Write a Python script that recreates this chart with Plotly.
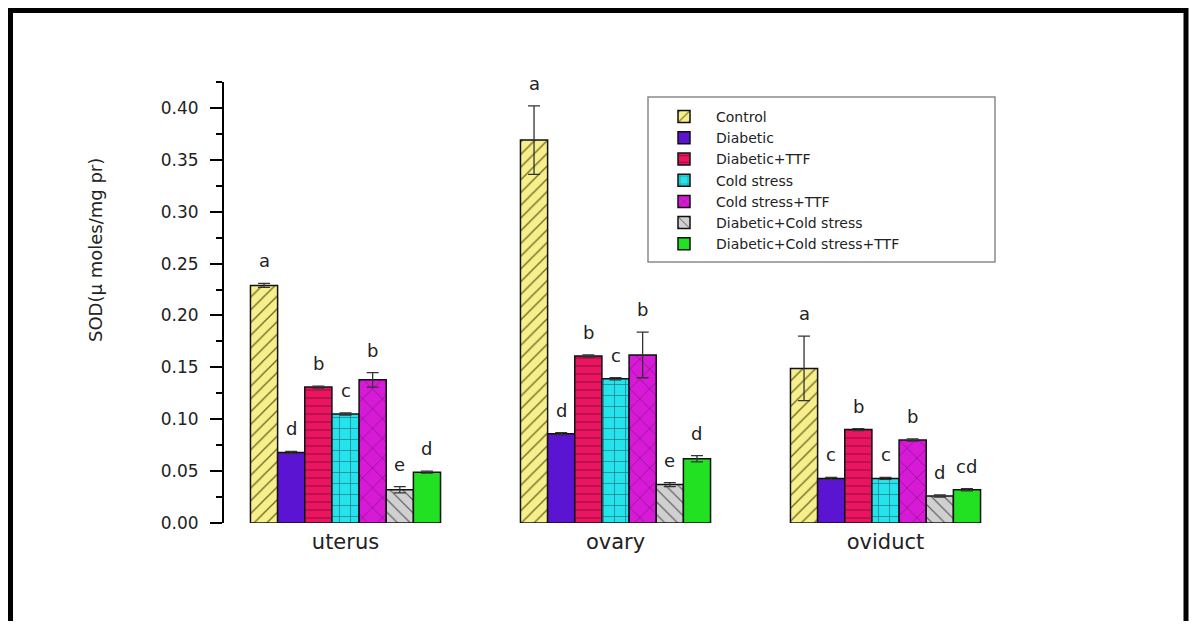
import plotly.graph_objects as go

# ---------------- data ----------------
tissues = ["uterus", "ovary", "oviduct"]
groups = ["Control", "Diabetic", "Diabetic+TTF", "Cold stress",
          "Cold stress+TTF", "Diabetic+Cold stress", "Diabetic+Cold stress+TTF"]

control = [0.229, 0.369, 0.149]
diabetic = [0.068, 0.086, 0.043]
diabetic_ttf = [0.131, 0.161, 0.090]
cold = [0.105, 0.139, 0.043]
cold_ttf = [0.138, 0.162, 0.080]
diab_cold = [0.032, 0.037, 0.026]
diab_cold_ttf = [0.049, 0.062, 0.032]

err_control = [0.002, 0.033, 0.031]
err_diabetic = [0.001, 0.001, 0.001]
err_diabetic_ttf = [0.001, 0.001, 0.001]
err_cold = [0.001, 0.001, 0.001]
err_cold_ttf = [0.007, 0.022, 0.001]
err_diab_cold = [0.003, 0.002, 0.001]
err_diab_cold_ttf = [0.001, 0.003, 0.001]

letters_control = ["a", "a", "a"]
letters_diabetic = ["d", "d", "c"]
letters_diabetic_ttf = ["b", "b", "b"]
letters_cold = ["c", "c", "c"]
letters_cold_ttf = ["b", "b", "b"]
letters_diab_cold = ["e", "e", "d"]
letters_diab_cold_ttf = ["d", "d", "cd"]

y_ticks = [0.00, 0.05, 0.10, 0.15, 0.20, 0.25, 0.30, 0.35, 0.40]
y_title = "SOD(μ moles/mg pr)"

values = [control, diabetic, diabetic_ttf, cold, cold_ttf, diab_cold, diab_cold_ttf]
errors = [err_control, err_diabetic, err_diabetic_ttf, err_cold, err_cold_ttf,
          err_diab_cold, err_diab_cold_ttf]
letters = [letters_control, letters_diabetic, letters_diabetic_ttf, letters_cold,
           letters_cold_ttf, letters_diab_cold, letters_diab_cold_ttf]

# ---------------- styles ----------------
styles = [
    dict(bg="#f6ef8c", fg="#6b6420", shape="/", size=9, sol=0.14),
    dict(bg="#5a14d2", fg="#5a14d2", shape="", size=8, sol=0.2),
    dict(bg="#ea1560", fg="#8c0a35", shape="-", size=8, sol=0.12),
    dict(bg="#26e2ea", fg="#1d5f6e", shape="+", size=11, sol=0.1),
    dict(bg="#d61ad6", fg="#7c0c7c", shape="x", size=14, sol=0.08),
    dict(bg="#d0d0d0", fg="#505050", shape="\\", size=9, sol=0.12),
    dict(bg="#22e022", fg="#22e022", shape="", size=8, sol=0.2),
]

FONT = "DejaVu Sans"
BARGAP = 0.296

fig = go.Figure()
for name, vals, errs, st in zip(groups, values, errors, styles):
    fig.add_trace(go.Bar(
        name=name, x=tissues, y=vals,
        error_y=dict(type="data", array=errs, visible=True, color="#333333",
                     thickness=1.3, width=6),
        marker=dict(
            color=st["bg"],
            line=dict(color="#111111", width=1.5),
            pattern=dict(shape=st["shape"], fgcolor=st["fg"], bgcolor=st["bg"],
                         size=st["size"], solidity=st["sol"], fillmode="replace"),
        ),
    ))

# significance letters above each bar
n = len(groups)
gw = 1 - BARGAP
bw = gw / n
annotations = []
for i in range(n):
    for j in range(len(tissues)):
        xpos = j - gw / 2 + (i + 0.5) * bw
        annotations.append(dict(
            x=xpos, y=values[i][j] + errors[i][j], xref="x", yref="y",
            text=letters[i][j], showarrow=False, yanchor="bottom", yshift=10,
            font=dict(family=FONT, size=18, color="#222222"),
        ))

# page geometry (the page body adds an 8 px margin on every side)
OFF = 8
W, H = 1197 - 2 * OFF, 629 - 2 * OFF
L, R, T, B = 224 - OFF, 1007 - OFF, 82 - OFF, 523 - OFF


def px(x):
    return (x - OFF - L) / (R - L)


def py(y):
    return (B - (y - OFF)) / (B - T)


annotations.append(dict(
    x=px(95), y=py(250), xref="paper", yref="paper", text=y_title,
    textangle=-90, showarrow=False, xanchor="center", yanchor="middle",
    font=dict(family=FONT, size=18, color="#222222"),
))

shapes = [
    dict(type="rect", xref="paper", yref="paper",
         x0=px(10.5), x1=px(1186), y0=py(10.5), y1=py(700),
         line=dict(color="black", width=5), fillcolor="rgba(0,0,0,0)",
         layer="above"),
    dict(type="rect", xref="paper", yref="paper",
         x0=px(648), x1=px(995), y0=py(97), y1=py(262),
         line=dict(color="#8a8a8a", width=1.5), fillcolor="white",
         layer="below"),
]

fig.update_layout(
    width=W, height=H,
    margin=dict(l=L, r=W - R, t=T, b=H - B, pad=0),
    paper_bgcolor="white", plot_bgcolor="rgba(0,0,0,0)",
    barmode="group", bargap=BARGAP, bargroupgap=0,
    font=dict(family=FONT, color="#222222"),
    showlegend=True,
    legend=dict(
        x=px(652), y=py(101), xanchor="left", yanchor="top",
        bgcolor="rgba(0,0,0,0)", borderwidth=0,
        font=dict(family=FONT, size=14, color="#222222"),
        itemwidth=54, tracegroupgap=0, traceorder="normal",
    ),
    annotations=annotations,
    shapes=shapes,
    xaxis=dict(
        range=[-0.45, 2.45], showline=False, showgrid=False, zeroline=False,
        ticks="", tickfont=dict(family=FONT, size=21, color="#222222"),
        ticklabelstandoff=4,
    ),
    yaxis=dict(
        range=[0, 0.425], tickvals=y_ticks,
        ticktext=[f"{v:.2f}" for v in y_ticks],
        showline=True, linecolor="black", linewidth=2,
        ticks="outside", ticklen=12, tickwidth=1.5, tickcolor="black",
        minor=dict(dtick=0.025, ticks="outside", ticklen=6, tickwidth=1.5,
                   tickcolor="black", showgrid=False),
        showgrid=False, zeroline=False,
        tickfont=dict(family=FONT, size=17, color="#222222"),
        ticklabelstandoff=8,
    ),
)

fig.write_html("out.html")
